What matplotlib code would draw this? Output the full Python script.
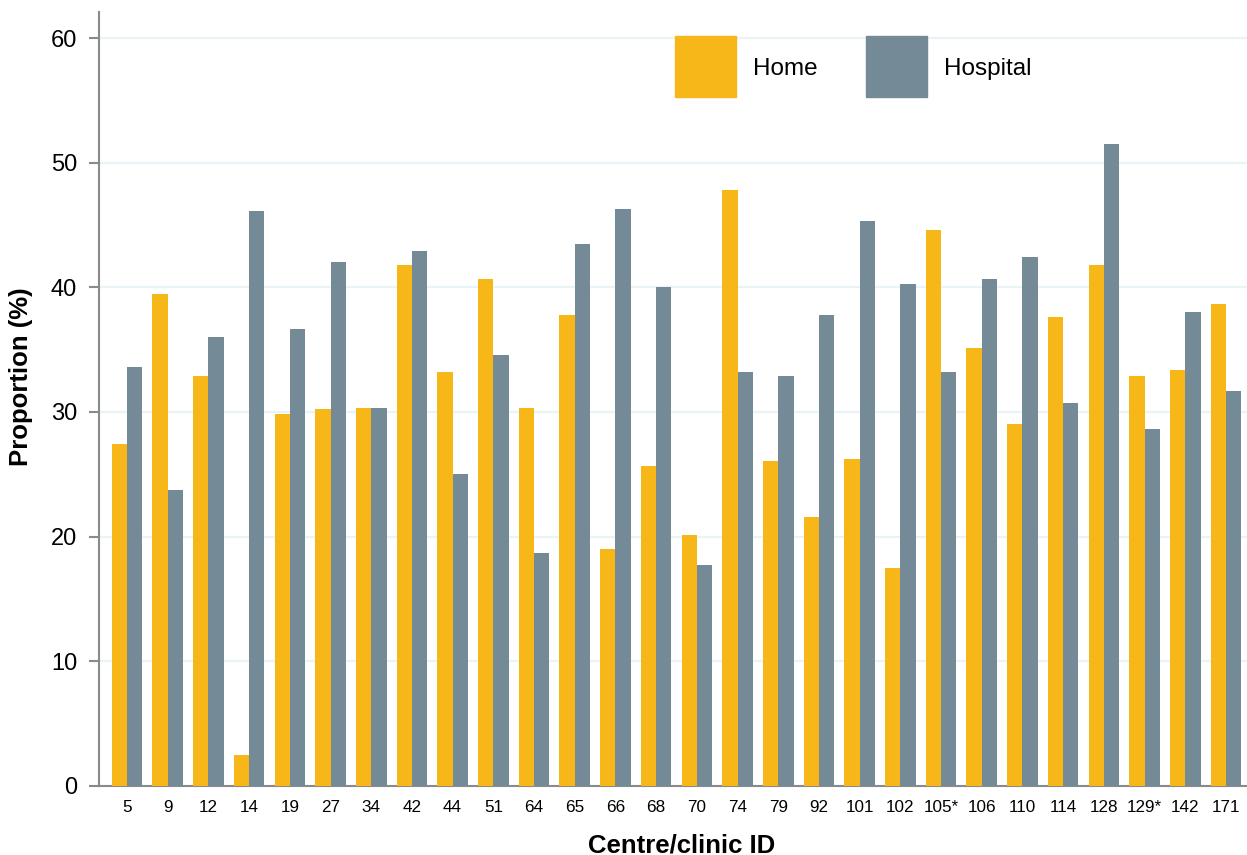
import numpy as np
import matplotlib
matplotlib.use("Agg")
import matplotlib.pyplot as plt
from matplotlib.patches import Rectangle

# Data
centres = ["5", "9", "12", "14", "19", "27", "34", "42", "44", "51", "64", "65", "66", "68",
           "70", "74", "79", "92", "101", "102", "105*", "106", "110", "114", "128", "129*",
           "142", "171"]
home = [27.4, 39.5, 32.9, 2.5, 29.8, 30.2, 30.3, 41.8, 33.2, 40.7, 30.3, 37.8, 19.0, 25.7,
        20.1, 47.8, 26.1, 21.6, 26.2, 17.5, 44.6, 35.1, 29.0, 37.6, 41.8, 32.9, 33.4, 38.7]
hospital = [33.6, 23.7, 36.0, 46.1, 36.7, 42.0, 30.3, 42.9, 25.0, 34.6, 18.7, 43.5, 46.3, 40.0,
            17.7, 33.2, 32.9, 37.8, 45.3, 40.3, 33.2, 40.7, 42.4, 30.7, 51.5, 28.6, 38.0, 31.7]
yticks = [0, 10, 20, 30, 40, 50, 60]
series_names = ["Home", "Hospital"]

home_color = "#F7B718"
hosp_color = "#758A97"
axis_color = "#8A8A8A"
grid_color = "#EAF3F6"

plt.rcParams["font.family"] = ["Liberation Sans", "DejaVu Sans"]

W, H = 1247, 855
fig = plt.figure(figsize=(W / 100, H / 100), dpi=100)
ax = fig.add_axes([98.7 / W, 1 - 785.7 / H, 1 - 98.7 / W, (785.7 - 11.7) / H])

x = np.arange(len(centres))
bw = 0.376
ax.bar(x - bw / 2, home, bw, color=home_color, zorder=3)
ax.bar(x + bw / 2, hospital, bw, color=hosp_color, zorder=3)

ax.set_xlim(-0.695, len(centres) - 1 + 0.516)
ax.set_ylim(0, 62.13)

ax.set_yticks(yticks)
ax.set_yticklabels([str(t) for t in yticks], fontsize=17)
ax.set_xticks(x)
ax.set_xticklabels(centres, fontsize=12.3)
ax.tick_params(axis="y", length=7.5, width=1.5, color=axis_color, pad=8)
ax.tick_params(axis="x", length=0, pad=10)

ax.yaxis.grid(True, color=grid_color, linewidth=1.6, zorder=0)
ax.set_axisbelow(True)

for side in ["top", "right"]:
    ax.spines[side].set_visible(False)
for side in ["left", "bottom"]:
    ax.spines[side].set_color(axis_color)
    ax.spines[side].set_linewidth(1.5)

fig.text(682 / W, 1 - 845 / H, "Centre/clinic ID", fontsize=18.5, fontweight="bold",
         ha="center", va="center")
fig.text(21 / W, 1 - 376.5 / H, "Proportion (%)", fontsize=18.5, fontweight="bold",
         ha="center", va="center", rotation=90)

# legend: square swatches with labels, placed like the reference
sw = 61
for name, col, px in zip(series_names, [home_color, hosp_color], [675, 866]):
    fig.patches.append(Rectangle((px / W, 1 - 97 / H), sw / W, sw / H,
                                 transform=fig.transFigure, color=col, zorder=5))
    fig.text((px + sw + 17) / W, 1 - 69 / H, name, fontsize=17.5, ha="left", va="center")

fig.savefig("out.png", dpi=100)
